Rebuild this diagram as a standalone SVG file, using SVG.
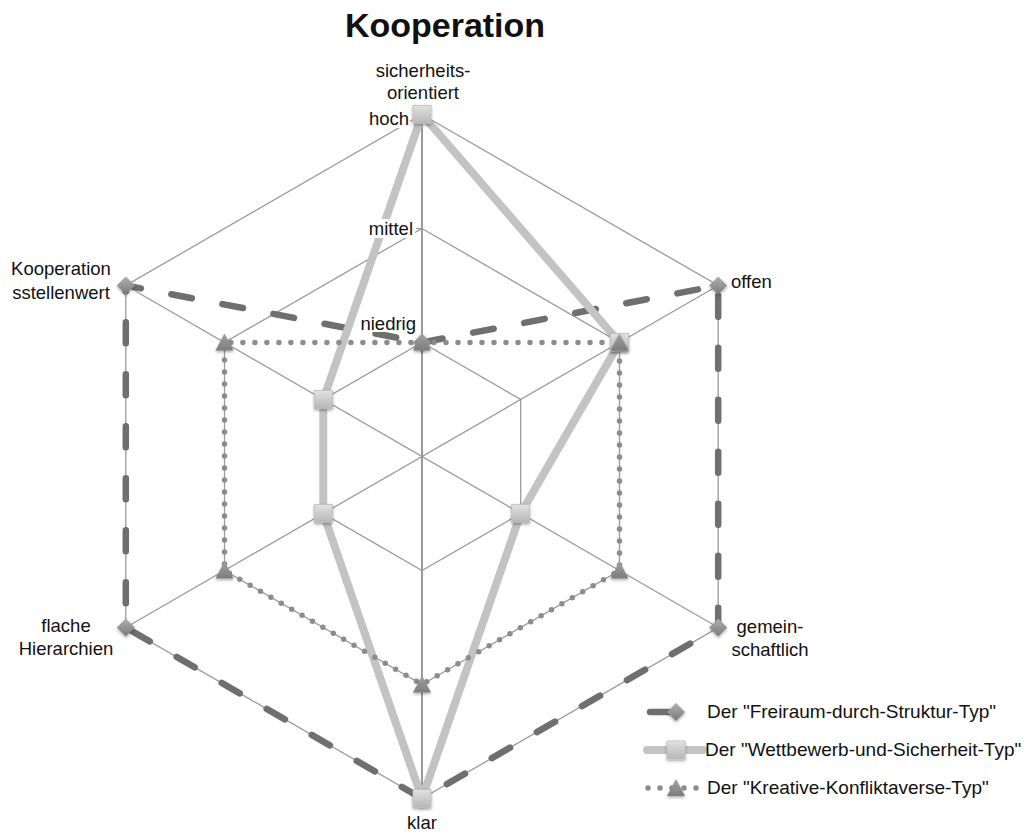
<svg xmlns="http://www.w3.org/2000/svg" width="1025" height="834" viewBox="0 0 1025 834">
<defs>
<style>
text{font-family:"Liberation Sans",Arial,sans-serif;font-size:18.5px;fill:#111}
.title{font-size:34px;font-weight:bold}
.leg{font-size:19px}
.mid{text-anchor:middle}
.end{text-anchor:end}
.grid{fill:none;stroke:#9a9a9a;stroke-width:1.3}
.s1{fill:none;stroke:#6f6f6f;stroke-width:6.5;stroke-linecap:round;stroke-linejoin:round;stroke-dasharray:21 31}
.s2{fill:none;stroke:#c3c3c3;stroke-width:8;stroke-linejoin:round}
.s3{fill:none;stroke:#8c8c8c;stroke-width:5.5;stroke-linecap:round;stroke-dasharray:0 12}
.bg{fill:#fff}
</style>
<linearGradient id="gD" x1="0" y1="0" x2="0" y2="1"><stop offset="0" stop-color="#b0b0b0"/><stop offset="1" stop-color="#7a7a7a"/></linearGradient>
<linearGradient id="gS" x1="0" y1="0" x2="0" y2="1"><stop offset="0" stop-color="#e2e2e2"/><stop offset="1" stop-color="#b6b6b6"/></linearGradient>
<linearGradient id="gT" x1="0" y1="0" x2="0" y2="1"><stop offset="0" stop-color="#a2a2a2"/><stop offset="1" stop-color="#7c7c7c"/></linearGradient>
<filter id="sh" x="-50%" y="-50%" width="200%" height="200%"><feDropShadow dx="0" dy="1.5" stdDeviation="1.5" flood-color="#000" flood-opacity="0.35"/></filter>
<path id="mD" d="M0,-9 L9,0 L0,9 L-9,0 Z" fill="url(#gD)" filter="url(#sh)"/>
<rect id="mS" x="-9" y="-9" width="18" height="18" fill="url(#gS)" stroke="#bdbdbd" stroke-width="0.8" filter="url(#sh)"/>
<path id="mT" d="M0,-9 L9,8 L-9,8 Z" fill="url(#gT)" filter="url(#sh)"/>
</defs>
<rect width="1025" height="834" fill="#fff"/>
<text class="title mid" x="445" y="37">Kooperation</text>
<g id="grid">
<polygon class="grid" points="422,114.5 718.2,285.5 718.2,627.5 422,798.5 125.8,627.5 125.8,285.5"/>
<polygon class="grid" points="422,228.5 619.5,342.5 619.5,570.5 422,684.5 224.5,570.5 224.5,342.5"/>
<polygon class="grid" points="422,342.5 520.7,399.5 520.7,513.5 422,570.5 323.3,513.5 323.3,399.5"/>
<line class="grid" x1="718.2" y1="285.5" x2="125.8" y2="627.5"/>
<line class="grid" x1="718.2" y1="627.5" x2="125.8" y2="285.5"/>
<line class="grid" x1="422" y1="114.5" x2="422" y2="798.5" style="stroke-width:2"/>
<line class="grid" x1="416" y1="114.5" x2="422" y2="114.5"/>
<line class="grid" x1="416" y1="228.5" x2="422" y2="228.5"/>
<line class="grid" x1="416" y1="342.5" x2="422" y2="342.5"/>
</g>
<g id="axis-labels">
<text class="mid" x="423" y="77">sicherheits-</text>
<text class="mid" x="423" y="99">orientiert</text>
<text x="731" y="288">offen</text>
<text class="mid" x="770" y="633">gemein-</text>
<text class="mid" x="770" y="656">schaftlich</text>
<text class="mid" x="422" y="829">klar</text>
<text class="mid" x="66" y="632">flache</text>
<text class="mid" x="66" y="655">Hierarchien</text>
<text class="mid" x="61" y="275">Kooperation</text>
<text class="mid" x="61" y="299">sstellenwert</text>
</g>
<g id="connectors">
<polygon id="series1-line" class="s1" points="422,342.5 718.2,285.5 718.2,627.5 422,798.5 125.8,627.5 125.8,285.5"/>
<polygon id="series2-line" class="s2" points="422,114.5 619.5,342.5 520.7,513.5 422,798.5 323.3,513.5 323.3,399.5"/>
<polygon id="series3-line" class="s3" points="422,342.5 619.5,342.5 619.5,570.5 422,684.5 224.5,570.5 224.5,342.5"/>
</g>
<g id="level-labels">
<rect class="bg" x="369" y="110" width="41" height="18"/>
<text class="end" x="409" y="125">hoch</text>
<rect class="bg" x="365" y="219" width="50" height="19"/>
<text class="end" x="413" y="235">mittel</text>
<rect class="bg" x="360" y="315" width="57" height="17"/>
<text class="end" x="416" y="330">niedrig</text>
</g>
<g id="series1-markers">
<use href="#mD" x="422" y="342.5"/>
<use href="#mD" x="718.2" y="285.5"/>
<use href="#mD" x="718.2" y="627.5"/>
<use href="#mD" x="422" y="798.5"/>
<use href="#mD" x="125.8" y="627.5"/>
<use href="#mD" x="125.8" y="285.5"/>
</g>
<g id="series2-markers">
<use href="#mS" x="422" y="114.5"/>
<use href="#mS" x="619.5" y="342.5"/>
<use href="#mS" x="520.7" y="513.5"/>
<use href="#mS" x="422" y="798.5"/>
<use href="#mS" x="323.3" y="513.5"/>
<use href="#mS" x="323.3" y="399.5"/>
</g>
<g id="series3-markers">
<use href="#mT" x="422" y="342.5"/>
<use href="#mT" x="619.5" y="342.5"/>
<use href="#mT" x="619.5" y="570.5"/>
<use href="#mT" x="422" y="684.5"/>
<use href="#mT" x="224.5" y="570.5"/>
<use href="#mT" x="224.5" y="342.5"/>
</g>
<g id="legend">
<line class="s1" x1="650" y1="712" x2="699" y2="712"/>
<use href="#mD" x="676" y="712"/>
<text class="leg" x="707" y="718">Der "Freiraum-durch-Struktur-Typ"</text>
<line class="s2" x1="647" y1="750" x2="703" y2="750" style="stroke-linecap:round"/>
<use href="#mS" x="676" y="750"/>
<text class="leg" x="705" y="756">Der "Wettbewerb-und-Sicherheit-Typ"</text>
<line class="s3" x1="648" y1="788" x2="703" y2="788"/>
<use href="#mT" x="676" y="788"/>
<text class="leg" x="707" y="794">Der "Kreative-Konfliktaverse-Typ"</text>
</g>
</svg>
